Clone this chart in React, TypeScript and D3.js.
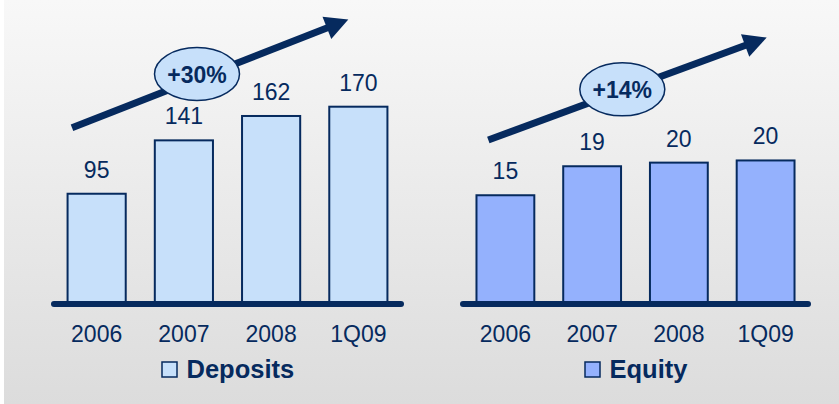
import * as d3 from "d3";
import React, { useEffect, useRef } from "react";

const periods = ["2006", "2007", "2008", "1Q09"];
const deposits = [95, 141, 162, 170];
const equity = [15, 19, 19.5, 19.8];
const depositsGrowth = "+30%";
const equityGrowth = "+14%";

const NAVY = "#062a5e";
const FONT = "'Liberation Sans', Arial, sans-serif";

const App = () => {
  const svgRef = useRef<SVGSVGElement>(null);

  useEffect(() => {
    const svg = d3.select(svgRef.current);
    svg.selectAll("*").remove();

    const W = 839;
    const H = 404;
    const baseY = 304;

    // background gradient
    const defs = svg.append("defs");
    const grad = defs
      .append("linearGradient")
      .attr("id", "bg")
      .attr("x1", 0)
      .attr("y1", 0)
      .attr("x2", 0)
      .attr("y2", 1);
    grad.append("stop").attr("offset", "0%").attr("stop-color", "#f8f8f8");
    grad.append("stop").attr("offset", "100%").attr("stop-color", "#dcdcdc");
    svg.append("rect").attr("x", 4).attr("y", 0).attr("width", W - 4).attr("height", H).attr("fill", "url(#bg)");

    const panels = [
      {
        values: deposits,
        growth: depositsGrowth,
        legend: "Deposits",
        fill: "#c7e0fa",
        xRange: [51, 404],
        yMax: 170,
        yTop: 304 - 197.3,
        arrow: { x1: 72, y1: 127.7, x2: 348.3, y2: 19.5 },
        bubble: { cx: 197, cy: 74 },
        legendX: 162,
      },
      {
        values: equity,
        growth: equityGrowth,
        legend: "Equity",
        fill: "#94b1fd",
        xRange: [460, 811],
        yMax: 20,
        yTop: 304 - 145,
        arrow: { x1: 488.3, y1: 140, x2: 766.7, y2: 37.5 },
        bubble: { cx: 622.3, cy: 89.3 },
        legendX: 585,
      },
    ];

    panels.forEach((p) => {
      const g = svg.append("g");

      const x = d3
        .scaleBand()
        .domain(periods)
        .range(p.xRange as [number, number])
        .paddingInner(1 / 3)
        .paddingOuter(0.19);

      const y = d3.scaleLinear().domain([0, p.yMax]).range([baseY, p.yTop]);

      // bars
      g.selectAll("rect.bar")
        .data(p.values)
        .join("rect")
        .attr("class", "bar")
        .attr("x", (d, i) => x(periods[i])!)
        .attr("y", (d) => y(d))
        .attr("width", x.bandwidth())
        .attr("height", (d) => baseY - y(d))
        .attr("fill", p.fill)
        .attr("stroke", NAVY)
        .attr("stroke-width", 2);

      // value labels
      g.selectAll("text.val")
        .data(p.values)
        .join("text")
        .attr("class", "val")
        .attr("x", (d, i) => x(periods[i])! + x.bandwidth() / 2)
        .attr("y", (d) => y(d) - 16)
        .attr("text-anchor", "middle")
        .attr("font-family", FONT)
        .attr("font-size", 23)
        .attr("fill", NAVY)
        .text((d) => d3.format(".0f")(d));

      // baseline
      g.append("line")
        .attr("x1", p.xRange[0] + 3)
        .attr("x2", p.xRange[1] - 3)
        .attr("y1", baseY)
        .attr("y2", baseY)
        .attr("stroke", NAVY)
        .attr("stroke-width", 6)
        .attr("stroke-linecap", "round");

      // category labels
      g.selectAll("text.cat")
        .data(periods)
        .join("text")
        .attr("class", "cat")
        .attr("x", (d) => x(d)! + x.bandwidth() / 2)
        .attr("y", 342)
        .attr("text-anchor", "middle")
        .attr("font-family", FONT)
        .attr("font-size", 23)
        .attr("fill", NAVY)
        .text((d) => d);

      // growth arrow
      const a = p.arrow;
      const len = Math.hypot(a.x2 - a.x1, a.y2 - a.y1);
      const ux = (a.x2 - a.x1) / len;
      const uy = (a.y2 - a.y1) / len;
      const headLen = 23;
      const headHalf = 12;
      const bx = a.x2 - ux * headLen;
      const by = a.y2 - uy * headLen;
      g.append("line")
        .attr("x1", a.x1)
        .attr("y1", a.y1)
        .attr("x2", bx + ux * 2)
        .attr("y2", by + uy * 2)
        .attr("stroke", NAVY)
        .attr("stroke-width", 7);
      g.append("path")
        .attr(
          "d",
          `M${a.x2},${a.y2}L${bx - uy * headHalf},${by + ux * headHalf}L${bx + uy * headHalf},${by - ux * headHalf}Z`
        )
        .attr("fill", NAVY);

      // growth bubble
      g.append("ellipse")
        .attr("cx", p.bubble.cx)
        .attr("cy", p.bubble.cy)
        .attr("rx", 42.5)
        .attr("ry", 26.5)
        .attr("fill", "#c7e0fa")
        .attr("stroke", NAVY)
        .attr("stroke-width", 1.5);
      g.append("text")
        .attr("x", p.bubble.cx)
        .attr("y", p.bubble.cy + 9)
        .attr("text-anchor", "middle")
        .attr("font-family", FONT)
        .attr("font-weight", "bold")
        .attr("font-size", 23)
        .attr("fill", NAVY)
        .text(p.growth);

      // legend
      g.append("rect")
        .attr("x", p.legendX)
        .attr("y", 362)
        .attr("width", 15)
        .attr("height", 15)
        .attr("fill", p.fill)
        .attr("stroke", NAVY)
        .attr("stroke-width", 1.5);
      g.append("text")
        .attr("x", p.legendX + 24.5)
        .attr("y", 378.3)
        .attr("font-family", FONT)
        .attr("font-weight", "bold")
        .attr("font-size", 25.5)
        .attr("fill", NAVY)
        .text(p.legend);
    });
  }, []);

  return (
    <svg
      ref={svgRef}
      width={839}
      height={404}
      style={{ position: "absolute", left: 0, top: 0 }}
    ></svg>
  );
};

export default App;
